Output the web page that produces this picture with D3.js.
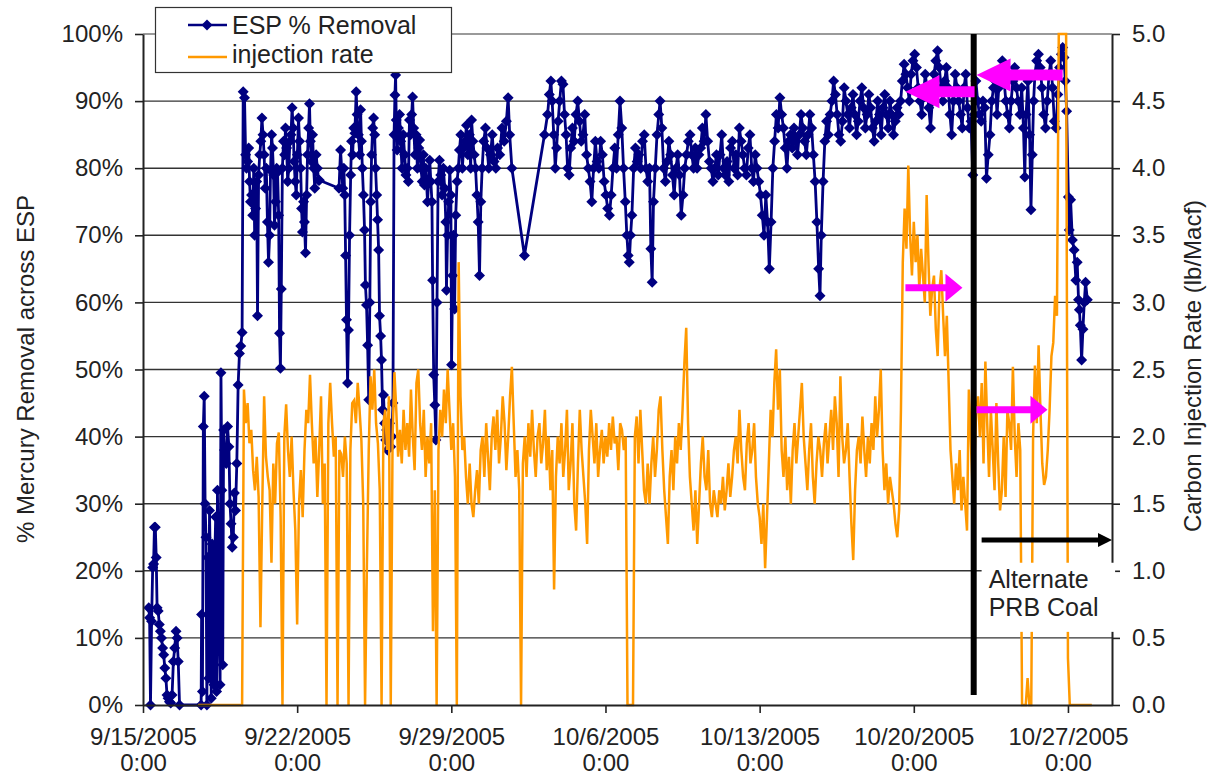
<!DOCTYPE html>
<html>
<head>
<meta charset="utf-8">
<script src="https://cdn.jsdelivr.net/npm/d3@7"></script>
<style>
  body { margin: 0; background: #fff; }
  text { font-family: "Liberation Sans", Arial, sans-serif; fill: #222; }
</style>
</head>
<body>
<div id="chart_area"></div>
<script>
// ---------- data ----------
var weekTicks = ["2005-09-15", "2005-09-22", "2005-09-29", "2005-10-06", "2005-10-13", "2005-10-20", "2005-10-27"];
var pctTicks = [0, 10, 20, 30, 40, 50, 60, 70, 80, 90, 100];
var rateTicks = [0, 0.5, 1, 1.5, 2, 2.5, 3, 3.5, 4, 4.5, 5];
var seriesNames = ["ESP % Removal", "injection rate"];

// ESP % removal: [days after 9/15/2005 0:00, percent]
var espSeries = [
  [0.26,14.5],[0.30,13],[0.34,0],[0.39,12.5],[0.44,20.5],[0.48,21],[0.52,26.5],[0.56,26.5],[0.60,22],[0.64,14.5],
  [0.69,14],[0.74,12],[0.79,11],[0.84,10],[0.89,8.5],[0.94,7.5],[0.99,5.5],[1.04,4],[1.09,1.5],[1.14,1],
  [1.20,0.5],[1.26,0.3],[1.32,1.5],[1.38,6.5],[1.44,8.5],[1.50,11],[1.55,10],[1.60,6.5],[1.66,0],
  [2.64,0],[2.66,13.5],[2.70,2],[2.74,41.5],[2.78,46],[2.82,30],[2.86,25],[2.90,0],[2.94,22],[2.98,4],
  [3.02,29],[3.06,20],[3.10,1],[3.14,24],[3.18,18],[3.22,3],[3.26,22],[3.30,28],[3.34,2],[3.38,32],
  [3.42,23],[3.46,10],[3.50,3],[3.54,49.5],[3.58,32],[3.62,6],[3.66,41],[3.70,38],
  [3.78,36],[3.84,41.5],[3.90,38.5],[3.95,30],[4.00,27],[4.05,23.5],[4.10,25],[4.15,31.6],[4.20,29],
  [4.26,36],[4.32,47.7],[4.38,52.4],[4.44,53.5],[4.50,55.5],
  [4.55,91.4],[4.61,90.5],[4.66,82],[4.70,80],[4.75,81],[4.80,83],[4.84,78],[4.88,75],[4.93,76],[4.98,73],
  [5.03,80],[5.07,70],[5.11,74],[5.16,78],[5.20,58],[5.25,79],[5.30,82],[5.35,84],[5.40,87.5],[5.45,85],
  [5.50,82],[5.55,77],[5.60,80],[5.65,72],[5.70,66],[5.75,70],[5.79,79.7],[5.84,85],[5.88,83],[5.93,79],
  [5.97,71.5],[6.02,75],[6.07,80],[6.11,79.4],[6.16,73],[6.20,55.4],[6.24,50.2],[6.28,62],[6.33,80],[6.38,84],
  [6.43,82],[6.47,86],[6.52,83],[6.57,78],[6.62,80],[6.67,84],[6.72,85],[6.77,89],[6.82,86],[6.86,81],
  [6.91,78],[6.96,76],[7.01,82],[7.06,87.5],[7.11,84],[7.16,80],[7.20,74],[7.24,70.5],[7.29,75],[7.33,72],
  [7.38,67.4],[7.43,76],[7.47,82],[7.52,86],[7.56,89.6],[7.60,84],[7.65,81],[7.70,85],[7.75,80],[7.80,77],
  [7.86,82],[7.92,80],[7.97,78.2],[8.01,78.2],
  [8.90,77],[8.97,82.7],[9.02,80],[9.07,77],[9.12,80],[9.16,76],[9.20,67],[9.24,57.4],[9.29,48],[9.33,55.9],
  [9.38,70],[9.43,79],[9.47,84],[9.52,82],[9.57,86],[9.62,85.2],[9.68,91.4],[9.72,88],[9.78,85],[9.84,82],
  [9.88,88.7],[9.92,84],[9.96,80],[10.01,76],[10.06,70.8],[10.10,62.6],[10.15,59.6],[10.20,53.6],[10.25,45.5],[10.30,60],
  [10.34,75],[10.38,82],[10.43,86],[10.47,87.5],[10.52,85],[10.56,80],[10.61,76],[10.65,72.3],[10.70,67.8],[10.74,58],
  [10.79,55],[10.83,51.4],[10.88,44],[10.92,46.2],[10.97,42],[11.02,39.5],[11.06,41],[11.10,38],[11.15,40],[11.20,42],
  [11.25,38.5],[11.30,40],[11.35,45],[11.40,85],[11.44,90.9],[11.47,93.9],[11.50,87.2],[11.54,82.7],[11.60,86],[11.65,88],
  [11.70,84],[11.76,80],[11.82,85],[11.88,82],[11.94,79],[12.00,80],[12.05,78],[12.10,87.2],[12.15,85],[12.20,88],
  [12.24,90.6],[12.29,86],[12.35,82],[12.40,85],[12.46,80],[12.52,83],[12.56,84.2],[12.62,80],[12.68,78],[12.73,82],
  [12.78,77.5],[12.84,80],[12.92,75],[12.97,78],[13.02,81.2],[13.07,78],[13.12,75],[13.15,63.3],[13.20,49.2],[13.25,44.7],
  [13.30,39.5],[13.35,60],[13.40,78],[13.46,81.2],[13.52,79],[13.58,76],[13.64,80],[13.70,77],[13.75,72],[13.78,61.8],
  [13.83,70],[13.88,75],[13.93,79.7],[13.98,76],[14.01,50.7],[14.06,64],[14.10,70],[14.15,59],[14.20,73],[14.26,78],
  [14.32,80],[14.37,82.7],[14.43,85],[14.50,80],[14.56,83],[14.62,84],[14.69,86.4],[14.75,82],[14.82,85],[14.88,80],
  [14.92,87.2],[14.98,84],[15.04,82],[15.10,80],[15.16,76],[15.22,72],[15.28,64],[15.34,75],[15.40,80],[15.47,84],
  [15.55,86],[15.62,83],[15.70,80],[15.78,82],[15.86,85],[15.94,81],[16.02,80],[16.10,83],[16.20,82],[16.30,86],
  [16.40,84],[16.50,87],[16.58,90.5],[16.65,85],[16.75,80],
  [17.32,67],[18.23,85],[18.37,88],[18.45,91],[18.52,93],[18.58,90],[18.65,85],[18.72,80],[18.78,83],[18.85,87],
  [18.92,90],[19.00,93],[19.07,92.5],[19.14,88],[19.21,85],[19.28,80],[19.35,79],[19.42,83],[19.50,86],[19.58,84],
  [19.66,88],[19.74,90],[19.82,87],[19.90,84],[19.98,85],[20.06,88],[20.14,82],[20.22,80],[20.30,78],[20.38,75],
  [20.46,80],[20.54,84],[20.62,81],[20.70,80],[20.78,84],[20.86,82],[20.94,78],[21.02,76],[21.10,74],[21.18,73],
  [21.26,76],[21.34,80],[21.42,83],[21.50,80],[21.58,85],[21.66,90],[21.74,86],[21.82,80],[21.90,75],[21.97,70],
  [22.03,67],[22.08,66],[22.14,70],[22.20,73],[22.28,80],[22.36,83],[22.44,81],[22.52,82],[22.60,80],[22.68,84],
  [22.76,85],[22.84,80],[22.92,78],[23.00,80],[23.06,68],[23.12,63],[23.18,75],[23.26,80],[23.34,85],[23.42,88],
  [23.48,90],[23.56,86],[23.64,80],[23.72,78],[23.80,81],[23.88,84],[23.96,82],[24.04,79],[24.12,76],[24.20,80],
  [24.28,82],[24.36,79],[24.44,73],[24.52,76],[24.60,80],[24.68,82],[24.76,84],[24.84,85],[24.92,82],[25.00,80],
  [25.08,83],[25.16,80],[25.24,82],[25.32,83],[25.40,86],[25.48,84],[25.56,88],[25.64,84],[25.72,81],[25.80,80],
  [25.88,78],[25.96,80],[26.04,82],[26.12,79],[26.20,82],[26.28,85],[26.36,80],[26.44,79],[26.52,81],[26.60,78],
  [26.68,83],[26.76,84],[26.84,80],[26.92,82],[27.00,79],[27.08,86],[27.16,84],[27.24,82],[27.32,80],[27.40,79],
  [27.48,83],[27.56,85],[27.64,80],[27.72,78],[27.80,82],[27.88,80],[27.96,78],[28.04,76],[28.12,73],[28.20,70],
  [28.28,76],[28.36,72],[28.44,65],[28.52,72],[28.60,80],[28.68,84],[28.76,88],[28.84,86],[28.92,90.5],[29.00,88],
  [29.08,86],[29.16,83],[29.24,80],[29.32,84],[29.40,85],[29.48,83],[29.56,86],[29.64,84],[29.72,82],[29.80,85],
  [29.88,88],[29.96,86],[30.04,84],[30.12,82],[30.20,85],[30.28,88],[30.36,86],[30.44,82],[30.52,78],[30.60,72],
  [30.68,65],[30.74,61],[30.80,70],[30.88,78],[30.96,84],[31.04,87],[31.12,85],[31.20,88],[31.28,90],[31.36,93],
  [31.44,91],[31.52,88],[31.60,85],[31.68,84],[31.76,87],[31.84,92],[31.92,90],[32.00,88],[32.08,86],[32.16,89],
  [32.24,91],[32.32,88],[32.40,85],[32.48,87],[32.56,90],[32.64,92],[32.72,89],[32.80,86],[32.88,88],[32.96,91],
  [33.04,89],[33.12,86],[33.20,84],[33.28,87],[33.36,90],[33.44,88],[33.52,85],[33.60,89],[33.68,91],[33.76,88],
  [33.84,86],[33.92,90],[34.00,88],[34.08,85],[34.16,87],[34.24,89],[34.32,88],[34.40,90],[34.48,93],[34.56,95.5],
  [34.64,94],[34.72,92],[34.80,90],[34.88,94],[34.96,96],[35.04,97],[35.12,95],[35.20,92],[35.28,90],[35.36,88],
  [35.44,91],[35.52,94],[35.60,92],[35.68,89],[35.76,86],[35.84,90],[35.92,94],[36.00,96],[36.08,97.5],[36.16,95],
  [36.24,92],[36.32,90],[36.40,93],[36.48,95],[36.56,92],[36.64,88],[36.72,85],[36.80,90],[36.88,94],[36.96,92],
  [37.04,90],[37.12,88],[37.20,86],[37.28,92],[37.36,94],[37.44,89],[37.52,86],[37.60,87],[37.68,79],[37.74,88],
  [37.82,93],[37.90,90],[37.98,88],[38.06,87],[38.14,90],[38.22,89],[38.30,78.5],[38.38,82],[38.46,85],[38.54,90],
  [38.62,92],[38.70,93],[38.78,88],[38.86,92],[38.94,94],[39.02,96],[39.10,93],[39.18,90],[39.26,88],[39.34,86],
  [39.42,90],[39.50,93],[39.58,95],[39.66,92],[39.74,90],[39.82,88],[39.90,92],[39.98,86],[40.04,78.7],[40.10,88],
  [40.18,93],[40.26,85],[40.32,73.8],[40.38,82],[40.44,90],[40.50,94],[40.58,96],[40.66,97],[40.74,95],[40.82,92],
  [40.90,88],[40.98,86],[41.06,90],[41.14,94],[41.22,96],[41.30,92],[41.38,87],[41.46,86],[41.54,91],[41.62,95],
  [41.70,97],[41.76,98],[41.82,96.5],[41.88,93],[41.94,88.5],
  [42.02,75.7],[42.06,70.8],[42.12,75.3],[42.20,69.3],[42.28,67.8],[42.36,63.3],[42.42,66],[42.48,60.4],[42.52,58.9],[42.56,56.6],
  [42.62,51.4],[42.68,56],[42.74,60],[42.80,63],[42.88,60.4]
];

// carbon injection rate (lb/Macf), one reading every 2 hours from 9/17/2005 12:00
var injStartDay = 2.5;
var injStepHours = 2;
var injRate = [
  0,0,0,0,0,0,                                                   // 9/17 pm
  0,0,0,0,0,0,0,0,0,0,0,0,                                       // 9/18
  0,0,0,0,0,0,0,2.35,2.1,2.25,1.95,2.05,                         // 9/19
  1.75,1.6,1.85,1.55,0.58,1.5,2.3,1.85,1.7,1.6,1.06,1.8,         // 9/20
  1.5,1.95,2.03,1.4,0,2.0,2.24,1.9,1.7,2.0,1.6,1.3,              // 9/21
  0.6,1.5,1.75,1.4,1.9,2.2,2.1,2.46,2.1,1.8,2.0,1.55,            // 9/22
  1.9,2.3,1.5,1.8,0,2.1,2.4,2.1,1.85,2.0,0,1.9,                  // 9/23
  1.87,1.7,2.0,1.8,0,1.9,2.25,2.27,2.1,2.4,2.2,1.97,             // 9/24
  1.5,0,1.04,1.9,2.45,2.2,2.5,2.1,1.95,1.6,0,2.1,                // 9/25
  2.2,1.9,2.3,0,2.0,2.48,2.2,1.85,2.05,1.8,2.2,1.9,              // 9/26
  2.1,1.85,2.35,2.0,1.75,2.4,2.5,2.1,1.9,2.2,1.7,2.0,            // 9/27
  1.8,2.1,0.55,1.6,0,1.9,2.2,2.0,2.35,2.1,2.5,2.2,               // 9/28
  1.9,2.1,1.7,0,3.3,2.3,1.9,2.0,1.7,1.5,1.8,1.5,                 // 9/29
  1.4,1.6,1.75,1.5,1.9,2.0,1.7,2.1,1.85,1.6,2.0,2.15,            // 9/30
  1.9,2.2,1.8,2.0,2.3,2.1,1.75,2.0,2.3,2.52,2.1,1.7,             // 10/1
  1.9,1.6,0,1.8,2.0,1.7,2.1,1.85,2.2,1.9,1.7,2.0,                // 10/2
  2.1,1.8,1.95,2.2,1.75,2.0,1.6,1.9,0.86,1.7,2.0,1.8,            // 10/3
  2.1,1.7,1.9,2.2,1.6,1.8,2.1,1.5,1.3,1.8,2.2,1.9,               // 10/4
  1.7,1.5,1.2,1.9,2.2,2.0,1.8,2.1,1.7,1.9,2.05,1.8,              // 10/5
  2.0,1.85,2.1,1.9,2.15,1.95,2.0,1.75,2.1,2.05,1.9,2.0,          // 10/6
  0,0,0,0,2.0,2.15,1.8,2.2,1.9,1.6,1.5,1.8,                      // 10/7
  1.5,1.8,2.0,1.7,1.9,2.2,2.3,1.9,1.6,1.4,1.2,1.7,               // 10/8
  1.9,1.6,2.0,1.8,2.1,1.9,2.2,2.55,2.81,2.1,1.7,1.5,             // 10/9
  1.3,1.6,1.2,1.5,1.8,2.0,1.7,1.6,1.9,1.5,1.4,1.6,               // 10/10
  1.5,1.4,1.6,1.5,1.7,1.45,1.6,1.8,1.55,1.7,1.9,2.0,             // 10/11
  1.8,2.2,1.9,1.7,1.6,1.95,2.1,1.8,1.9,2.1,1.7,1.5,              // 10/12
  1.4,1.2,1.5,1.02,1.4,1.8,2.2,2.0,2.4,2.65,2.2,2.5,             // 10/13
  1.9,1.7,2.0,1.6,1.85,1.5,1.9,2.1,1.8,2.0,2.2,2.4,              // 10/14
  2.0,1.8,1.6,1.9,2.1,1.7,1.5,1.8,2.0,1.9,1.7,1.95,              // 10/15
  2.1,1.8,2.0,2.2,1.9,2.3,2.1,1.7,2.45,2.0,1.8,1.9,              // 10/16
  2.1,1.7,1.35,1.08,1.6,1.9,2.0,1.8,2.15,1.9,1.7,2.0,            // 10/17
  1.8,2.1,1.9,2.3,2.0,2.2,2.5,1.9,1.6,1.8,1.5,1.7,               // 10/18
  1.6,1.5,1.35,1.25,1.45,2.2,3.3,3.7,3.4,4.02,3.5,3.2,           // 10/19
  3.6,3.3,3.5,3.1,3.4,3.2,3.0,3.8,3.3,2.9,3.1,3.2,               // 10/20
  2.8,2.6,3.1,3.24,2.9,2.6,2.9,2.4,1.9,1.7,1.5,1.8,              // 10/21
  1.6,1.9,1.45,1.7,1.5,1.3,2.35,2.0,1.6,1.8,2.2,2.3,             // 10/22
  2.0,2.4,1.8,2.56,2.1,1.7,2.2,1.9,1.6,2.25,1.8,1.45,            // 10/23
  1.6,2.0,1.55,2.2,2.1,1.9,2.52,2.0,1.7,2.1,1.9,0,               // 10/24
  0,0,0.2,0,0,2.0,2.53,2.1,2.68,2.2,1.8,1.64,                    // 10/25
  1.7,1.9,2.2,2.6,2.7,3.05,2.9,5.0,5.0,5.0,5.0,5.0,              // 10/26
  0.35,0,0,0,0,0,0,0,0,0,0,0,                                    // 10/27
  0,0                                                            // 10/28
];

// annotations (in data units: days after 9/15 and axis values)
var coalSwitchDay = 37.72;
var noteLines = ["Alternate", "PRB Coal"];
var pinkArrows = [
  { from: 37.76, to: 34.62, value: 91.4, axis: "pct" },
  { from: 41.76, to: 37.85, value: 93.9, axis: "pct" },
  { from: 34.62, to: 37.21, value: 3.11, axis: "rate" },
  { from: 37.85, to: 41.07, value: 2.2, axis: "rate" }
];

// ---------- layout ----------
var plot = { left: 143, right: 1112, top: 34, bottom: 705 };
var navy = "#000080", orange = "#ff9900", pink = "#ff00ff";

var svg = d3.select("#chart_area")
  .append("svg")
  .attr("width", 1207)
  .attr("height", 778);

var parseDay = d3.timeParse("%Y-%m-%d");
var t0 = parseDay(weekTicks[0]);
function dayToDate(d) { return new Date(t0.getTime() + d * 864e5); }

var x = d3.scaleTime().domain([t0, dayToDate(44)]).range([plot.left, plot.right]);
var yPct = d3.scaleLinear().domain([0, 100]).range([plot.bottom, plot.top]);
var yRate = d3.scaleLinear().domain([0, 5]).range([plot.bottom, plot.top]);

// gridlines
svg.append("g")
  .selectAll("line")
  .data(pctTicks.filter(function (d) { return d > 0; }))
  .enter()
  .append("line")
  .attr("x1", plot.left)
  .attr("x2", plot.right)
  .attr("y1", function (d) { return yPct(d); })
  .attr("y2", function (d) { return yPct(d); })
  .attr("stroke", function (d) { return d === 100 ? "#9a9a9a" : "#333"; })
  .attr("stroke-width", function (d) { return d === 100 ? 2 : 1.4; });

// ESP % removal line with diamond markers
var espLine = d3.line()
  .x(function (d) { return x(dayToDate(d[0])); })
  .y(function (d) { return yPct(d[1]); });

svg.append("path")
  .datum(espSeries)
  .attr("d", espLine)
  .attr("fill", "none")
  .attr("stroke", navy)
  .attr("stroke-width", 2.8)
  .attr("stroke-linejoin", "round");

var diamond = "M0,-5.5L5.5,0L0,5.5L-5.5,0Z";
svg.append("g")
  .selectAll("path")
  .data(espSeries)
  .enter()
  .append("path")
  .attr("d", diamond)
  .attr("transform", function (d) { return "translate(" + x(dayToDate(d[0])) + "," + yPct(d[1]) + ")"; })
  .attr("fill", navy);

// injection rate line (secondary axis)
var injLine = d3.line()
  .x(function (d, i) { return x(dayToDate(injStartDay + i * injStepHours / 24)); })
  .y(function (d) { return yRate(d); });

svg.append("path")
  .datum(injRate)
  .attr("d", injLine)
  .attr("fill", "none")
  .attr("stroke", orange)
  .attr("stroke-width", 2.5);

// axes
function styleAxis(g) {
  g.attr("font-size", 24)
    .attr("font-family", "Liberation Sans, Arial, sans-serif")
    .attr("color", "#222");
  g.select(".domain").attr("stroke-width", 2);
  g.selectAll(".tick line").attr("stroke-width", 1.6);
}

svg.append("g")
  .attr("transform", "translate(" + plot.left + ",0)")
  .call(d3.axisLeft(yPct).tickValues(pctTicks).tickFormat(function (d) { return d + "%"; })
    .tickSize(8).tickPadding(12).tickSizeOuter(0))
  .call(styleAxis);

svg.append("g")
  .attr("transform", "translate(" + plot.right + ",0)")
  .call(d3.axisRight(yRate).tickValues(rateTicks).tickFormat(d3.format(".1f"))
    .tickSize(8).tickPadding(12).tickSizeOuter(0))
  .call(styleAxis);

var gx = svg.append("g")
  .attr("transform", "translate(0," + plot.bottom + ")")
  .call(d3.axisBottom(x).tickValues(weekTicks.map(parseDay)).tickFormat("")
    .tickSize(8).tickSizeOuter(0))
  .call(styleAxis);

var fmt = d3.timeFormat("%-m/%-d/%Y");
gx.selectAll(".tick").append("text")
  .attr("y", 40).attr("text-anchor", "middle").attr("fill", "#222")
  .text(function (d) { return fmt(d); });
gx.selectAll(".tick").append("text")
  .attr("y", 66).attr("text-anchor", "middle").attr("fill", "#222")
  .text("0:00");

// axis titles
svg.append("text")
  .attr("transform", "translate(26,369)rotate(-90)")
  .attr("text-anchor", "middle")
  .attr("dy", "0.35em")
  .attr("font-size", 24)
  .text("% Mercury Removal across ESP");

svg.append("text")
  .attr("transform", "translate(1193,366)rotate(-90)")
  .attr("text-anchor", "middle")
  .attr("dy", "0.35em")
  .attr("font-size", 24)
  .text("Carbon Injection Rate (lb/Macf)");

// coal switch marker, note box and arrows
function arrowPath(x1, x2, y, shaft, head, len) {
  var s = x2 > x1 ? 1 : -1, xb = x2 - s * len;
  return "M" + x1 + "," + (y - shaft / 2) + "L" + xb + "," + (y - shaft / 2) +
    "L" + xb + "," + (y - head / 2) + "L" + x2 + "," + y +
    "L" + xb + "," + (y + head / 2) + "L" + xb + "," + (y + shaft / 2) +
    "L" + x1 + "," + (y + shaft / 2) + "Z";
}

svg.append("line")
  .attr("x1", x(dayToDate(coalSwitchDay))).attr("x2", x(dayToDate(coalSwitchDay)))
  .attr("y1", yPct(100)).attr("y2", yPct(1.5))
  .attr("stroke", "#000").attr("stroke-width", 6);

svg.append("rect")
  .attr("x", x(dayToDate(38.08)))
  .attr("y", yPct(21.2))
  .attr("width", x(dayToDate(44.14)) - x(dayToDate(38.08)))
  .attr("height", yPct(10.9) - yPct(21.2))
  .attr("fill", "#fff");

svg.append("g")
  .selectAll("text")
  .data(noteLines)
  .enter()
  .append("text")
  .attr("x", x(dayToDate(38.4)))
  .attr("y", function (d, i) { return yPct(17.4) + i * 28; })
  .attr("font-size", 25)
  .text(function (d) { return d; });

svg.append("path")
  .attr("d", arrowPath(x(dayToDate(38.08)), plot.right, yPct(24.6), 5, 14, 14))
  .attr("fill", "#000");

svg.append("g")
  .selectAll("path")
  .data(pinkArrows)
  .enter()
  .append("path")
  .attr("d", function (d) {
    var y = d.axis === "pct" ? yPct(d.value) : yRate(d.value);
    var big = d.axis === "pct";
    return arrowPath(x(dayToDate(d.from)), x(dayToDate(d.to)), y,
      big ? 11 : 7, big ? 33 : 28, big ? 34 : 17);
  })
  .attr("fill", pink);

// legend
var legend = svg.append("g");
legend.append("rect")
  .attr("x", 155.5).attr("y", 7.5).attr("width", 296).attr("height", 65)
  .attr("fill", "#fff").attr("stroke", "#333").attr("stroke-width", 1.2);

legend.append("line")
  .attr("x1", 188).attr("x2", 227).attr("y1", 25).attr("y2", 25)
  .attr("stroke", navy).attr("stroke-width", 2.5);
legend.append("path")
  .attr("d", diamond).attr("transform", "translate(207,25)").attr("fill", navy);
legend.append("line")
  .attr("x1", 188).attr("x2", 227).attr("y1", 57).attr("y2", 57)
  .attr("stroke", orange).attr("stroke-width", 2.5);

legend.selectAll("text")
  .data(seriesNames)
  .enter()
  .append("text")
  .attr("x", 232)
  .attr("y", function (d, i) { return i === 0 ? 34 : 63; })
  .attr("font-size", 25)
  .text(function (d) { return d; });
</script>
</body>
</html>
